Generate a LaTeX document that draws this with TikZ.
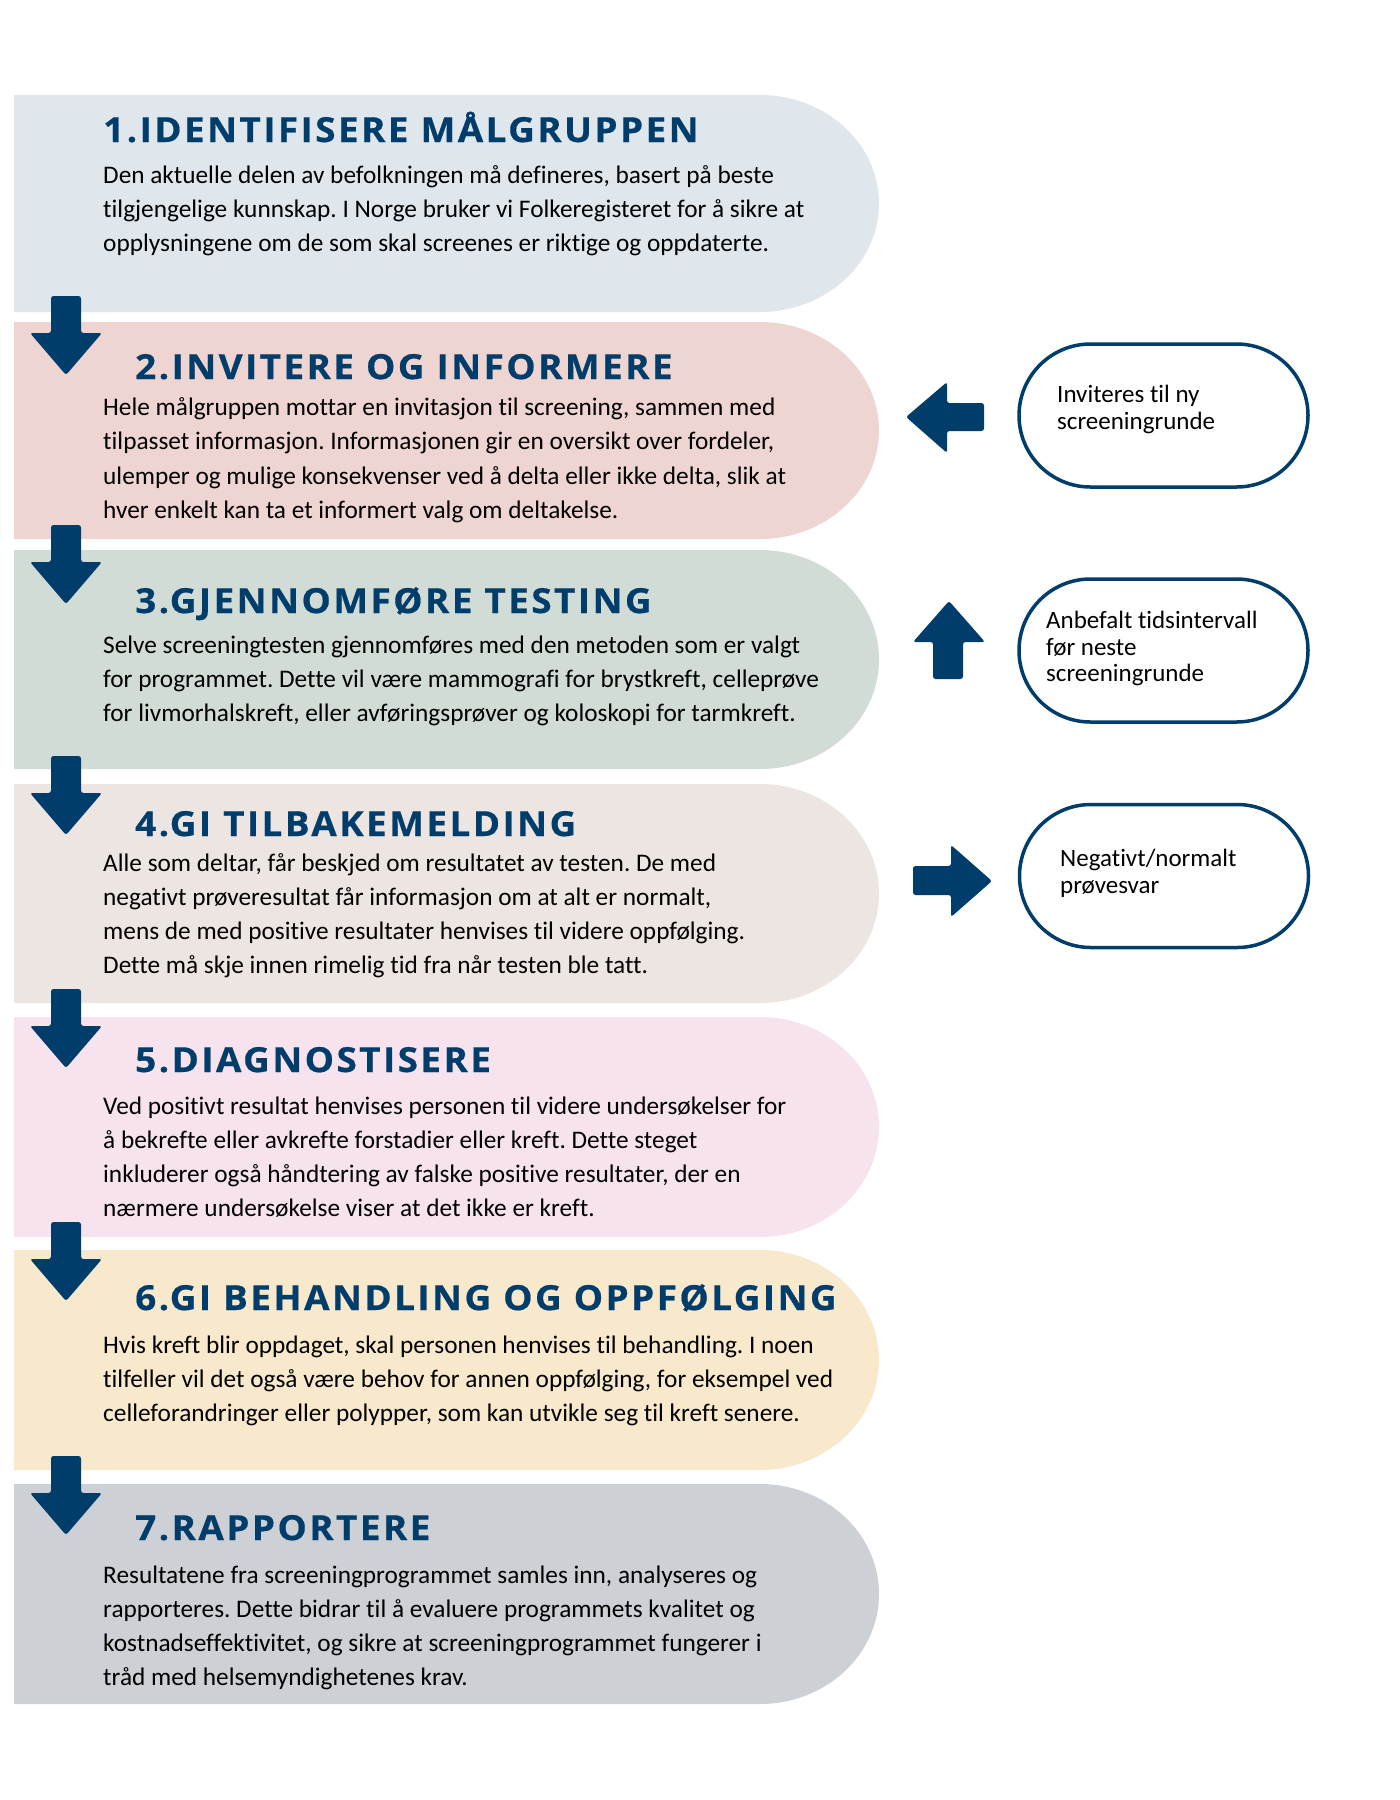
\documentclass[tikz,border=0pt]{standalone}
\usepackage{fontspec}
\setmainfont[Ligatures={NoCommon}]{Carlito}
\newfontfamily\titlefont[LetterSpace=7,FakeStretch=1.07,BoldFeatures={FakeBold=0.5}]{Open Sans}
\usetikzlibrary{shapes.misc}
\definecolor{navy}{HTML}{003D6A}
\definecolor{bandA}{HTML}{DFE7ED}
\definecolor{bandB}{HTML}{EFD5D2}
\definecolor{bandC}{HTML}{D2DCD7}
\definecolor{bandD}{HTML}{EDE5E1}
\definecolor{bandE}{HTML}{F7E3EE}
\definecolor{bandF}{HTML}{F8E8CC}
\definecolor{bandG}{HTML}{CDD1D5}
\tikzset{
  titletext/.style={anchor=base west, inner sep=0pt, text=navy, font=\titlefont\bfseries\fontsize{34.5}{40}\selectfont},
  bodytext/.style={anchor=base west, inner sep=0pt, text=black},
  ovalbox/.style={rounded rectangle, draw=navy, line width=3.5pt, fill=white, minimum width=289pt, minimum height=143pt, inner sep=0pt},
  ovaltext/.style={anchor=base west, inner sep=0pt, text=black},
  blockarrow/.style={fill=navy, rounded corners=2.5pt},
}
\newcommand{\bodypar}[1]{\parbox[t]{900pt}{\frenchspacing\fontsize{25.3}{34.3}\selectfont #1}}
\newcommand{\ovalpar}[1]{\parbox[t]{300pt}{\frenchspacing\fontsize{25}{26.7}\selectfont #1}}
\newcommand{\downarrowat}[1]{%
  \fill[blockarrow] (51,#1) -- (81,#1) -- (81,#1+37) -- (102,#1+37) -- (66,#1+79) -- (30,#1+37) -- (51,#1+37) -- cycle;}
\newcommand{\bandshape}[3]{%
  \fill[#1] (14,#2) -- (760,#2) arc[start angle=-90,end angle=90,x radius=119,y radius=(#3-#2)/2] -- (14,#3) -- cycle;}
\begin{document}
\begin{tikzpicture}[x=1pt,y=-1pt]
\useasboundingbox (0,0) rectangle (1400,1800);
\fill[white] (0,0) rectangle (1400,1800);

% bands
\bandshape{bandA}{95}{312}
\bandshape{bandB}{322}{539}
\bandshape{bandC}{550}{769}
\bandshape{bandD}{784}{1003}
\bandshape{bandE}{1017}{1237}
\bandshape{bandF}{1250}{1470}
\bandshape{bandG}{1484}{1704}

% down arrows
\downarrowat{296}
\downarrowat{525}
\downarrowat{756}
\downarrowat{989}
\downarrowat{1222}
\downarrowat{1456}

% titles
\node[titletext] (t1) at (103,142) {1.IDENTIFISERE MÅLGRUPPEN};
\node[titletext] (t2) at (135,379) {2.INVITERE OG INFORMERE};
\node[titletext] (t3) at (135,613) {3.GJENNOMFØRE TESTING};
\node[titletext] (t4) at (135,836) {4.GI TILBAKEMELDING};
\node[titletext] (t5) at (135,1072) {5.DIAGNOSTISERE};
\node[titletext] (t6) at (135,1310) {6.GI BEHANDLING OG OPPFØLGING};
\node[titletext] (t7) at (135,1540) {7.RAPPORTERE};

% body texts
\node[bodytext] (b1) at (103,183) {\bodypar{Den aktuelle delen av befolkningen må defineres, basert på beste\\tilgjengelige kunnskap. I Norge bruker vi Folkeregisteret for å sikre at\\opplysningene om de som skal screenes er riktige og oppdaterte.}};
\node[bodytext] (b2) at (103,415.5) {\bodypar{Hele målgruppen mottar en invitasjon til screening, sammen med\\tilpasset informasjon. Informasjonen gir en oversikt over fordeler,\\ulemper og mulige konsekvenser ved å delta eller ikke delta, slik at\\hver enkelt kan ta et informert valg om deltakelse.}};
\node[bodytext] (b3) at (103,653) {\bodypar{Selve screeningtesten gjennomføres med den metoden som er valgt\\for programmet. Dette vil være mammografi for brystkreft, celleprøve\\for livmorhalskreft, eller avføringsprøver og koloskopi for tarmkreft.}};
\node[bodytext] (b4) at (103,871) {\bodypar{Alle som deltar, får beskjed om resultatet av testen. De med\\negativt prøveresultat får informasjon om at alt er normalt,\\mens de med positive resultater henvises til videre oppfølging.\\Dette må skje innen rimelig tid fra når testen ble tatt.}};
\node[bodytext] (b5) at (103,1114) {\bodypar{Ved positivt resultat henvises personen til videre undersøkelser for\\å bekrefte eller avkrefte forstadier eller kreft. Dette steget\\inkluderer også håndtering av falske positive resultater, der en\\nærmere undersøkelse viser at det ikke er kreft.}};
\node[bodytext] (b6) at (103,1353) {\bodypar{Hvis kreft blir oppdaget, skal personen henvises til behandling. I noen\\tilfeller vil det også være behov for annen oppfølging, for eksempel ved\\celleforandringer eller polypper, som kan utvikle seg til kreft senere.}};
\node[bodytext] (b7) at (103,1583) {\bodypar{Resultatene fra screeningprogrammet samles inn, analyseres og\\rapporteres. Dette bidrar til å evaluere programmets kvalitet og\\kostnadseffektivitet, og sikre at screeningprogrammet fungerer i\\tråd med helsemyndighetenes krav.}};

% side ovals
\node[ovalbox] (o1) at (1163.5,415.5) {};
\node[ovalbox] (o2) at (1163.5,650.5) {};
\node[ovalbox] (o3) at (1164,876) {};
\node[ovaltext] (s1) at (1057,402.7) {\ovalpar{Inviteres til ny\\screeningrunde}};
\node[ovaltext] (s2) at (1046,628.3) {\ovalpar{Anbefalt tidsintervall\\før neste\\screeningrunde}};
\node[ovaltext] (s3) at (1060,866.7) {\ovalpar{Negativt/normalt\\prøvesvar}};

% side arrows
\fill[blockarrow] (906,417) -- (947,382) -- (947,403) -- (984,403) -- (984,431) -- (947,431) -- (947,453) -- cycle;
\fill[blockarrow] (949,601) -- (985,642) -- (963,642) -- (963,679) -- (933,679) -- (933,642) -- (913,642) -- cycle;
\fill[blockarrow] (992,881) -- (951,845) -- (951,866) -- (913,866) -- (913,895) -- (951,895) -- (951,917) -- cycle;
\end{tikzpicture}
\end{document}
